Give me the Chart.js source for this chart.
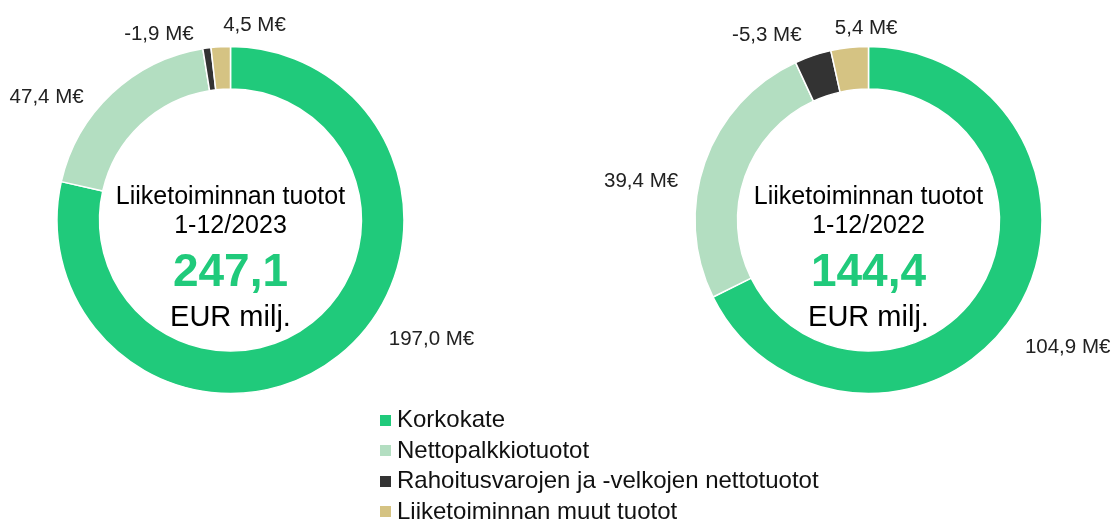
<!DOCTYPE html>
<html>
<head>
<meta charset="utf-8">
<script src="https://cdn.jsdelivr.net/npm/chart.js@4.4.1/dist/chart.umd.min.js"></script>
<style>
  html, body { margin: 0; padding: 0; background: #fff; }
  #wrap { position: relative; width: 1116px; height: 519px; overflow: hidden; }
  #wrap canvas { position: absolute; left: 0; top: 0; }
  #legend { position: absolute; left: 380px; top: 404px; margin: 0; padding: 0; list-style: none;
            font-family: "Liberation Sans", Arial, sans-serif; font-size: 24px; color: #111; }
  #legend li { display: flex; align-items: center; height: 30.5px; white-space: nowrap; }
  #legend span.box { display: inline-block; width: 11px; height: 11px; margin-right: 6px; margin-top: 2px; }
</style>
</head>
<body>
<div id="wrap">
  <canvas id="chart2023" width="1116" height="519"></canvas>
  <canvas id="chart2022" width="1116" height="519"></canvas>
  <ul id="legend"></ul>
</div>
<script>
// luokat ja arvot (M€)
var categories = ['Korkokate', 'Nettopalkkiotuotot', 'Rahoitusvarojen ja -velkojen nettotuotot', 'Liiketoiminnan muut tuotot'];
var values2023 = [197.0, 47.4, -1.9, 4.5];
var values2022 = [104.9, 39.4, -5.3, 5.4];
var totals = [247.1, 144.4];
var periods = ['1-12/2023', '1-12/2022'];
var colors = ['#20CA7B', '#B3DEC1', '#333333', '#D5C383'];

// asettelu
var FONT = '"Liberation Sans", Arial, sans-serif';
var centers = [{ x: 230.5, y: 220, r: 173.5 }, { x: 868.5, y: 220, r: 173.5 }];
var labelNudge = [
    [[79, -33], [-50, 20], [-45, 8], [35, 1]],
    [[33, 24], [-43, 26], [-39, 1], [19, 3]]
];

function fmt(v) {
    return v.toFixed(1).replace('.', ',');
}

var labelPlugin = {
    id: 'labels',
    afterDatasetsDraw: function (chart, args, opts) {
        var ctx = chart.ctx;
        var meta = chart.getDatasetMeta(0);
        var raw = opts.raw;
        ctx.save();
        ctx.font = '20.5px ' + FONT;
        ctx.fillStyle = '#222';
        ctx.textAlign = 'center';
        ctx.textBaseline = 'middle';
        meta.data.forEach(function (arc, i) {
            var a = (arc.startAngle + arc.endAngle) / 2;
            var r = arc.outerRadius + 22;
            var x = arc.x + r * Math.cos(a) + opts.nudge[i][0];
            var y = arc.y + r * Math.sin(a) + opts.nudge[i][1];
            ctx.fillText(fmt(raw[i]) + ' M€', x, y);
        });

        // keskiteksti
        var cx = meta.data[0].x, cy = meta.data[0].y;
        ctx.fillStyle = '#000';
        ctx.font = '25px ' + FONT;
        ctx.fillText('Liiketoiminnan tuotot', cx, cy - 23);
        ctx.fillText(opts.period, cx, cy + 6);
        ctx.font = 'bold 46px ' + FONT;
        ctx.fillStyle = colors[0];
        ctx.fillText(fmt(opts.total), cx, cy + 53);
        ctx.font = '29px ' + FONT;
        ctx.fillStyle = '#000';
        ctx.fillText('EUR milj.', cx, cy + 98);
        ctx.restore();
    }
};

function makeDonut(id, vals, k) {
    var c = centers[k];
    var h = c.r + 0.75;
    new Chart(document.getElementById(id), {
        type: 'doughnut',
        data: {
            labels: categories,
            datasets: [{
                data: vals.map(function (v) { return Math.abs(v); }),
                backgroundColor: colors,
                borderColor: '#ffffff',
                borderWidth: 1.5
            }]
        },
        options: {
            responsive: false,
            animation: false,
            cutout: '75.5%',
            layout: {
                padding: { left: c.x - h, right: 1116 - c.x - h, top: c.y - h, bottom: 519 - c.y - h }
            },
            plugins: {
                legend: { display: false },
                tooltip: { enabled: false },
                labels: { raw: vals, nudge: labelNudge[k], total: totals[k], period: periods[k] }
            }
        },
        plugins: [labelPlugin]
    });
}

makeDonut('chart2023', values2023, 0);
makeDonut('chart2022', values2022, 1);

var ul = document.getElementById('legend');
categories.forEach(function (name, i) {
    var li = document.createElement('li');
    var box = document.createElement('span');
    box.className = 'box';
    box.style.background = colors[i];
    li.appendChild(box);
    li.appendChild(document.createTextNode(name));
    ul.appendChild(li);
});
</script>
</body>
</html>
